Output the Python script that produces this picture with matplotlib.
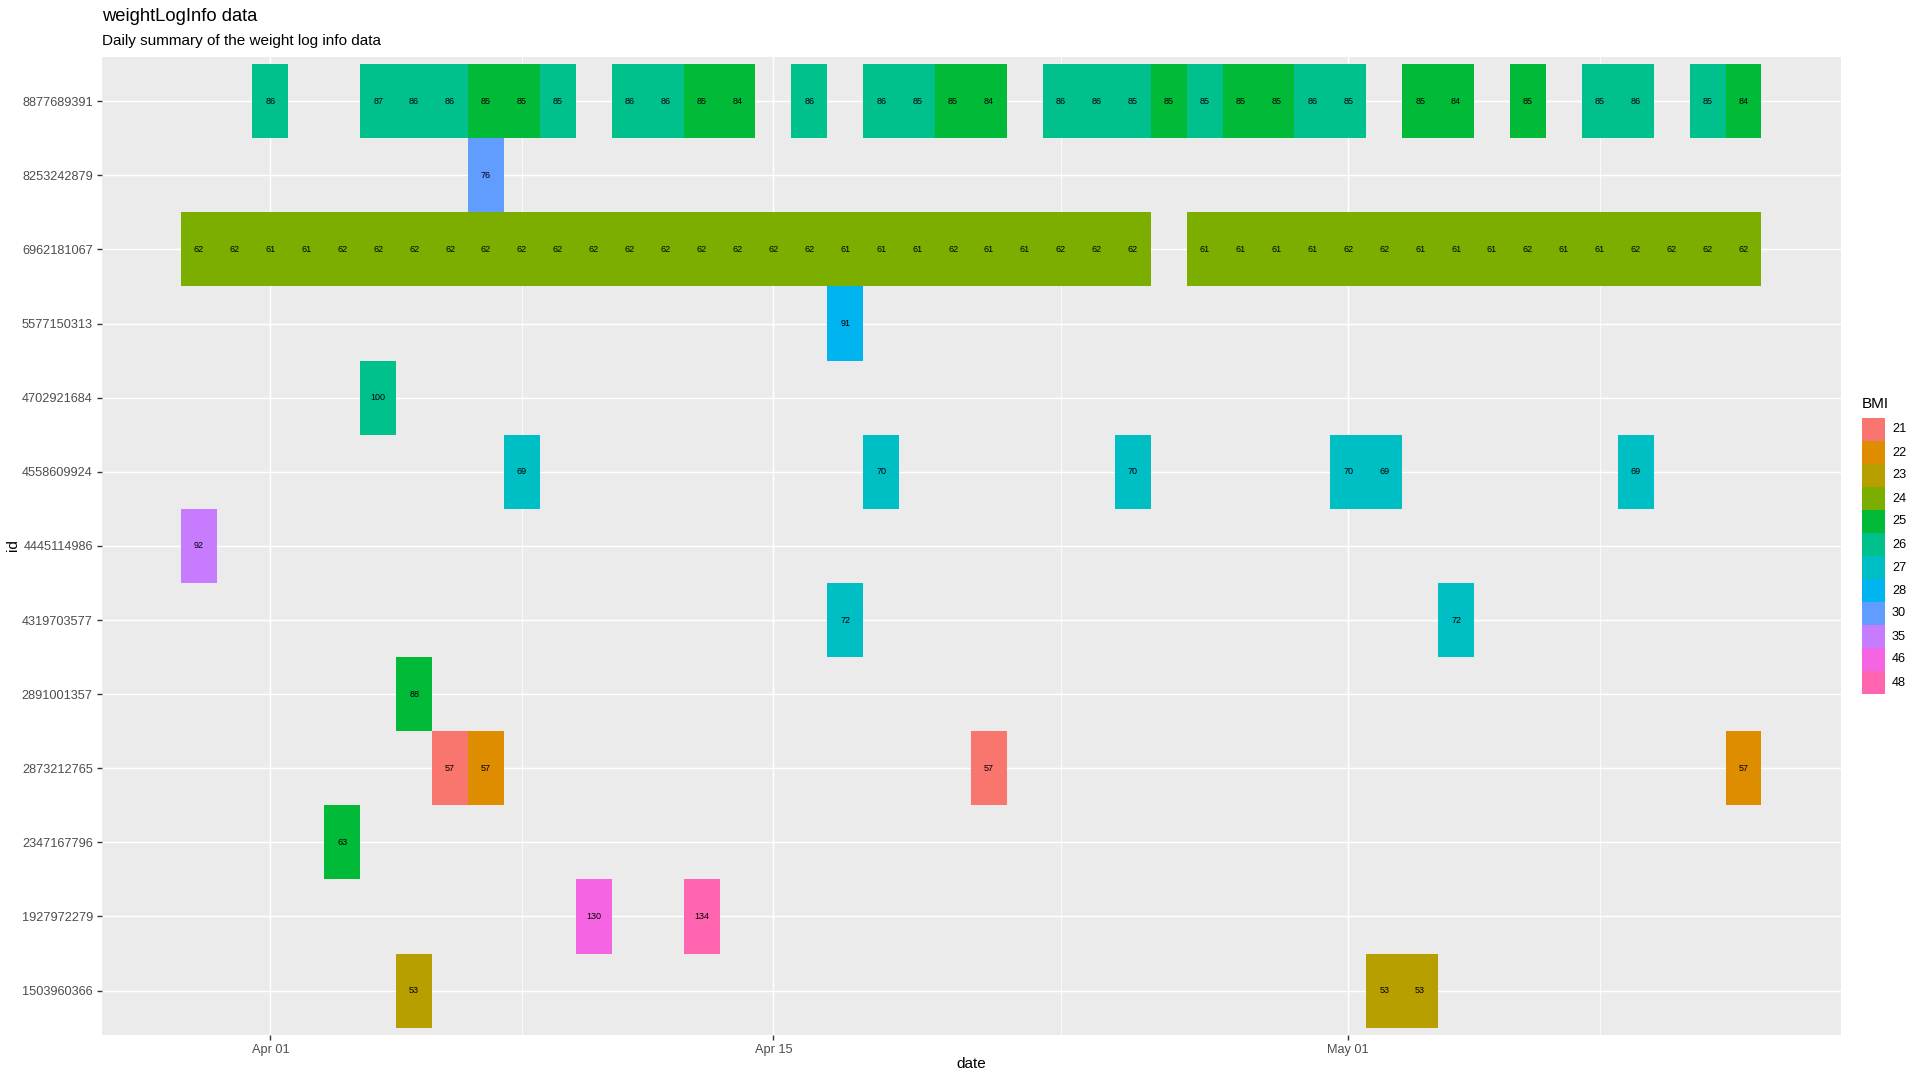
import numpy as np
import pandas as pd
import matplotlib
matplotlib.use("Agg")
import matplotlib.pyplot as plt
import matplotlib.dates as mdates
from matplotlib.patches import Rectangle

plt.rcParams['font.family'] = ['Liberation Sans', 'DejaVu Sans']

# rows, bottom to top
ids = ["1503960366", "1927972279", "2347167796", "2873212765", "2891001357",
       "4319703577", "4445114986", "4558609924", "4702921684", "5577150313",
       "6962181067", "8253242879", "8877689391"]

bmi_levels = [21, 22, 23, 24, 25, 26, 27, 28, 30, 35, 46, 48]
bmi_colors = ["#F8766D", "#DE8C00", "#B79F00", "#7CAE00", "#00BA38", "#00C08B",
              "#00BFC4", "#00B4F0", "#619CFF", "#C77CFF", "#F564E3", "#FF64B0"]

# per-id logs: dates (2016), weight kg (rounded), BMI (rounded)
dates_8877689391 = ["04-01", "04-04", "04-05", "04-06", "04-07", "04-08", "04-09", "04-11",
                    "04-12", "04-13", "04-14", "04-16", "04-18", "04-19", "04-20", "04-21",
                    "04-23", "04-24", "04-25", "04-26", "04-27", "04-28", "04-29", "04-30",
                    "05-01", "05-03", "05-04", "05-06", "05-08", "05-09", "05-11", "05-12"]
kg_8877689391 = [86, 87, 86, 86, 85, 85, 85, 86, 86, 85, 84, 86, 86, 85, 85, 84,
                 86, 86, 85, 85, 85, 85, 85, 86, 85, 85, 84, 85, 85, 86, 85, 84]
bmi_8877689391 = [26, 26, 26, 26, 25, 25, 26, 26, 26, 25, 25, 26, 26, 26, 25, 25,
                  26, 26, 26, 25, 26, 25, 25, 26, 26, 25, 25, 25, 26, 26, 26, 25]

dates_6962181067 = ["03-30", "03-31", "04-01", "04-02", "04-03", "04-04", "04-05", "04-06",
                    "04-07", "04-08", "04-09", "04-10", "04-11", "04-12", "04-13", "04-14",
                    "04-15", "04-16", "04-17", "04-18", "04-19", "04-20", "04-21", "04-22",
                    "04-23", "04-24", "04-25",
                    "04-27", "04-28", "04-29", "04-30", "05-01", "05-02", "05-03", "05-04",
                    "05-05", "05-06", "05-07", "05-08", "05-09", "05-10", "05-11", "05-12"]
kg_6962181067 = [62, 62, 61, 61, 62, 62, 62, 62, 62, 62, 62, 62, 62, 62, 62, 62,
                 62, 62, 61, 61, 61, 62, 61, 61, 62, 62, 62,
                 61, 61, 61, 61, 62, 62, 61, 61, 61, 62, 61, 61, 62, 62, 62, 62]
bmi_6962181067 = [24] * len(kg_6962181067)

logs = {
    "8877689391": (dates_8877689391, kg_8877689391, bmi_8877689391),
    "8253242879": (["04-07"], [76], [30]),
    "6962181067": (dates_6962181067, kg_6962181067, bmi_6962181067),
    "5577150313": (["04-17"], [91], [28]),
    "4702921684": (["04-04"], [100], [26]),
    "4558609924": (["04-08", "04-18", "04-25", "05-01", "05-02", "05-09"],
                   [69, 70, 70, 70, 69, 69], [27, 27, 27, 27, 27, 27]),
    "4445114986": (["03-30"], [92], [35]),
    "4319703577": (["04-17", "05-04"], [72, 72], [27, 27]),
    "2891001357": (["04-05"], [88], [25]),
    "2873212765": (["04-06", "04-07", "04-21", "05-12"], [57, 57, 57, 57], [21, 22, 21, 22]),
    "2347167796": (["04-03"], [63], [25]),
    "1927972279": (["04-10", "04-13"], [130, 134], [46, 48]),
    "1503960366": (["04-05", "05-02", "05-03"], [53, 53, 53], [23, 23, 23]),
}

color_of = dict(zip(bmi_levels, bmi_colors))

fig = plt.figure(figsize=(19.2, 10.8), dpi=100)
ax = fig.add_axes([0.0529, 0.0416, 0.9586 - 0.0529, 0.9475 - 0.0416])
ax.set_facecolor("#EBEBEB")
for s in ax.spines.values():
    s.set_visible(False)

all_x = []
for row, pid in enumerate(ids):
    d, kg, bmi = logs[pid]
    x = mdates.date2num(pd.to_datetime(["2016-" + v for v in d]))
    all_x.extend(x)
    ax.bar(x, 1.0, width=1.0, bottom=row - 0.5, align="center",
           color=[color_of[b] for b in bmi], linewidth=0, zorder=3)
    for xi, k in zip(x, kg):
        ax.text(xi, row, str(k), ha="center", va="center", fontsize=6.5,
                color="black", zorder=4)

lo, hi = min(all_x) - 0.5, max(all_x) + 0.5
pad = (hi - lo) * 0.05
ax.set_xlim(lo - pad, hi + pad)
ax.set_ylim(-0.6, len(ids) - 0.4)

major = mdates.date2num(pd.to_datetime(["2016-04-01", "2016-04-15", "2016-05-01"]))
minor = mdates.date2num(pd.to_datetime(["2016-04-08", "2016-04-23", "2016-05-08"]))
ax.set_xticks(major)
ax.set_xticklabels(["Apr 01", "Apr 15", "May 01"])
ax.set_xticks(minor, minor=True)
ax.set_yticks(range(len(ids)))
ax.set_yticklabels(ids)

ax.grid(True, which="major", color="white", linewidth=1.07, zorder=0)
ax.grid(True, which="minor", axis="x", color="white", linewidth=0.55, zorder=0)
ax.set_axisbelow(True)
ax.tick_params(which="major", length=3.8, width=1.0, color="#333333",
               labelcolor="#4D4D4D", labelsize=9.2, pad=2.5)
ax.tick_params(which="minor", length=0)

fig.text(0.0529, 0.9845, "weightLogInfo data", fontsize=13.2, ha="left", va="center")
fig.text(0.0529, 0.9625, "Daily summary of the weight log info data", fontsize=11,
         ha="left", va="center")
fig.text(0.5057, 0.0148, "date", fontsize=11, ha="center", va="center")
fig.text(0.0066, 0.495, "id", fontsize=11, ha="center", va="center", rotation=90)

# legend
key_w, key_h = 23 / 1920, 23 / 1080
key_x, key_top = 1862 / 1920, 1 - 418 / 1080
fig.text(key_x, 1 - 404 / 1080, "BMI", fontsize=11, ha="left", va="center")
for i, (lvl, col) in enumerate(zip(bmi_levels, bmi_colors)):
    y0 = key_top - (i + 1) * key_h
    fig.patches.append(Rectangle((key_x, y0), key_w, key_h, transform=fig.transFigure,
                                 facecolor=col, edgecolor="none"))
    fig.text(1892 / 1920, y0 + key_h / 2, str(lvl), fontsize=9.2, ha="left", va="center")

fig.savefig("out.png", dpi=100)
